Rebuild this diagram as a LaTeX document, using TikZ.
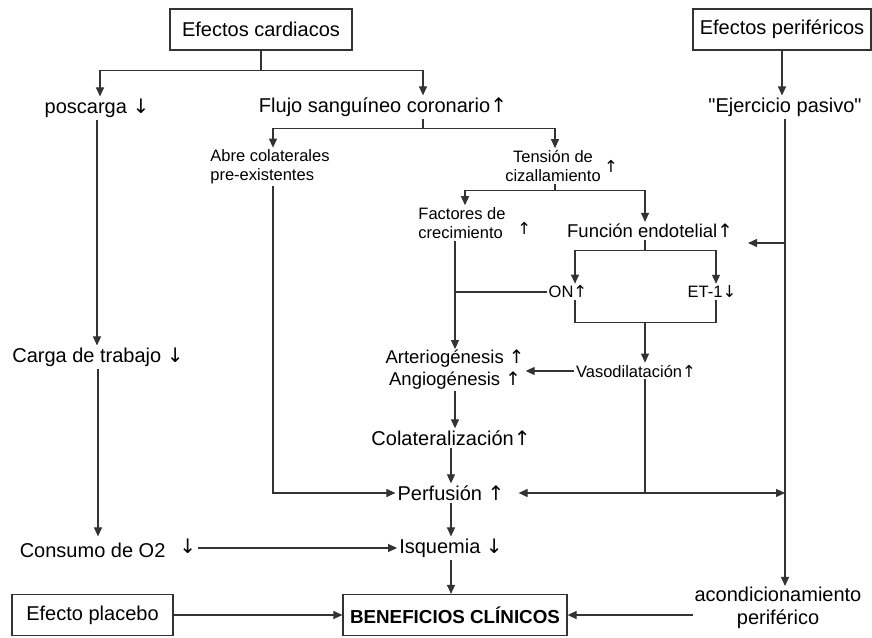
\documentclass[tikz,border=0pt]{standalone}
\usepackage{fontspec}
\setmainfont{Liberation Sans}
\newfontfamily\arrfont{DejaVu Sans}
\usetikzlibrary{arrows.meta,calc}

\newcommand\mainsz{\fontsize{20}{23}\selectfont}
\newcommand\midsz{\fontsize{18.5}{22}\selectfont}
\newcommand\smsz{\fontsize{16.5}{19}\selectfont}
\newcommand\upar{{\arrfont ↑}}
\newcommand\dnar{{\arrfont ↓}}

\begin{document}
\begin{tikzpicture}[
    x=1pt, y=-1pt,
    cbox/.style={draw=black!80, line width=1.2pt, minimum height=41pt, inner sep=0pt, font=\mainsz},
    txt/.style={inner sep=2pt, font=\mainsz, align=center},
    midtxt/.style={txt, font=\midsz},
    smtxt/.style={txt, font=\smsz},
    conn/.style={draw=black!80, line width=1.1pt},
    arr/.style={conn, -{Triangle[width=8pt,length=9pt]}},
]
\useasboundingbox (0,0) rectangle (872,637);

% top row
\node[cbox, minimum width=182pt] (ecard) at (261,29.5) {Efectos cardiacos};
\node[cbox, minimum width=178pt] (eper) at (782,29.5) {Efectos periféricos};
\node[txt] (posc) at (97,108) {poscarga \dnar};
\node[txt] (flujo) at (383,107) {Flujo sanguíneo coronario\upar};
\node[txt] (ejer) at (785,107) {\textquotedbl Ejercicio pasivo\textquotedbl};

% coronary branch
\node[smtxt, align=left] (abre) at (270,167) {Abre colaterales\\pre-existentes};
\node[smtxt, label={[inner sep=1pt, font=\smsz]east:\upar}] (tension) at (553,166) {Tensión de\\cizallamiento};
\node[smtxt, align=left, label={[label distance=6pt, yshift=-5pt, font=\smsz]east:\upar}] (factores) at (462,223) {Factores de\\crecimiento};
\node[midtxt] (funcion) at (650,231) {Función endotelial\upar};
\node[smtxt] (on) at (568,292) {ON\upar};
\node[smtxt] (et) at (712,292) {ET-1\dnar};
\node[smtxt] (vaso) at (636,371) {Vasodilatación\upar};
\node[midtxt, inner sep=1pt] (arterio) at (455,370) {Arteriogénesis \upar\\Angiogénesis \upar};
\node[txt] (colat) at (451,438) {Colateralización\upar};
\node[txt] (perf) at (451,493) {Perfusión \upar};
\node[txt] (isq) at (451,548) {Isquemia \dnar};

% left column
\node[txt] (carga) at (98,357) {Carga de trabajo \dnar};
\node[txt] (consumo) at (108,548) {Consumo de O2\hspace{14pt}\raisebox{4pt}{\dnar}};

% bottom row
\node[cbox, minimum width=161pt] (placebo) at (92.5,615) {Efecto placebo};
\node[cbox, minimum width=224pt, font=\fontsize{18.8}{22}\selectfont\bfseries] (benef) at (455,615) {BENEFICIOS CLÍNICOS};
\node[txt, inner sep=1pt] (acond) at (778,608) {acondicionamiento\\periférico};

% helper points
\coordinate (fs) at ([xshift=-5pt]funcion.south);
\coordinate (fb) at ([xshift=-7pt]factores.south);
\coordinate (fe) at ([shift={(13pt,-12pt)}]funcion.east);

% cardiac effects
\draw[conn] (ecard.south) -- ++(0,20) coordinate (c1);
\draw[arr] (c1) -| ([xshift=3pt]posc.north);
\draw[arr] (c1) -| ([xshift=40pt]flujo.north);
\draw[conn] ([xshift=40pt]flujo.south) -- ++(0,10) coordinate (c2);
\draw[arr] (c2) -| ([xshift=3pt]abre.north);
\draw[arr] (c2) -| ([xshift=2pt]tension.north);
\draw[conn] ([xshift=2pt]tension.south) -- ++(0,7) coordinate (c3);
\draw[arr] (c3) -| ([xshift=3pt]factores.north);
\draw[arr] (c3) -| (fs |- funcion.north);
\draw[conn] (fs) -- ++(0,10) coordinate (c4);
\draw[arr] (c4) -| ([xshift=7pt]on.north);
\draw[arr] (c4) -| ([xshift=4pt]et.north);
\draw[conn] ([xshift=7pt]on.south) -- ++(0,22) coordinate (c5) -| ([xshift=4pt]et.south);
\draw[arr] (fs |- c5) -- (fs |- vaso.north);
\draw[arr] (vaso.west) -- (vaso.west -| arterio.east);
\draw[arr] (fb) -- (fb |- arterio.north);
\draw[conn] (on.west) -- (on.west -| fb);
\draw[arr] (arterio.south) -- (arterio.south |- colat.north);
\draw[arr] (colat) -- (perf);
\draw[arr] (perf) -- (isq);
\draw[arr] (isq.south) -- (isq.south |- benef.north);
\draw[arr] ([xshift=3pt]abre.south) |- (perf.west);
\draw[conn] (fs |- vaso.south) -- (fs |- perf) coordinate (c6);
\draw[arr] (c6) -- ([xshift=12pt]perf.east);
\draw[arr] (c6) -- (c6 -| ejer.south);

% left column
\draw[arr] (posc.south) -- (posc.south |- carga.north);
\draw[arr] (carga.south) -- (carga.south |- consumo.north);
\draw[arr] (consumo.east) -- (isq.west);

% peripheral effects
\draw[arr] (eper.south) -- (eper.south |- ejer.north);
\draw[arr] (ejer.south) -- (ejer.south |- acond.north);
\draw[arr] (ejer.south |- fe) -- (fe);

% bottom row
\draw[arr] (placebo.east) -- (benef.west);
\draw[arr] (acond.west |- benef) -- (benef.east);
\end{tikzpicture}
\end{document}
